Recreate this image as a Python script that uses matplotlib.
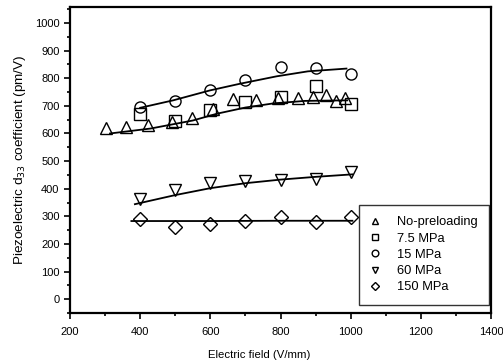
import numpy as np
import matplotlib.pyplot as plt
from matplotlib.ticker import MultipleLocator

plt.rcParams['font.family'] = ['Liberation Sans', 'DejaVu Sans']

# measured points
x_tri = [302, 359, 422, 490, 547, 607, 665, 729, 793, 850, 893, 931, 958, 985]
y_tri = [621, 623, 629, 641, 657, 688, 724, 723, 728, 728, 732, 738, 717, 727]
x_sq = [400, 500, 600, 700, 800, 900, 1000]
y_sq = [672, 645, 686, 714, 732, 771, 705]
x_circ = [400, 500, 600, 700, 800, 900, 1000]
y_circ = [695, 716, 756, 795, 841, 836, 815]
x_down = [400, 500, 600, 700, 800, 900, 1000]
y_down = [362, 396, 421, 427, 432, 435, 459]
x_dia = [400, 500, 600, 700, 800, 900, 1000]
y_dia = [290, 262, 272, 284, 296, 281, 298]

# fitted curves
fx_low = [314, 430, 550, 620, 700, 780, 870, 990]
fy_low = [600, 618, 647, 672, 694, 709, 718, 720]
fx_circ = [400, 494, 599, 684, 789, 878, 988]
fy_circ = [693, 720, 756, 780, 807, 825, 835]
fx_down = [385, 500, 600, 700, 800, 900, 1005]
fy_down = [344, 377, 402, 420, 433, 443, 452]
fx_dia = [375, 600, 800, 1005]
fy_dia = [283, 283, 284, 284]

fig = plt.figure(figsize=(5.03, 3.63), dpi=100)
ax = fig.add_axes([70/503, 1-313/363, 421/503, 306/363])

mk = dict(linestyle='none', mfc='none', mec='black', mew=1.0, ms=8)
ax.plot(x_tri, y_tri, marker='^', label='No-preloading', **mk)
ax.plot(x_sq, y_sq, marker='s', label='7.5 MPa', **mk)
ax.plot(x_circ, y_circ, marker='o', label='15 MPa', **mk)
ax.plot(x_down, y_down, marker='v', label='60 MPa', **mk)
ax.plot(x_dia, y_dia, marker='D', label='150 MPa', **dict(mk, ms=7))

for fx, fy in [(fx_low, fy_low), (fx_circ, fy_circ), (fx_down, fy_down), (fx_dia, fy_dia)]:
    ax.plot(fx, fy, color='black', lw=1.3)

ax.set_xlim(200, 1400)
ax.set_ylim(-50, 1058)
ax.xaxis.set_major_locator(MultipleLocator(200))
ax.xaxis.set_minor_locator(MultipleLocator(100))
ax.yaxis.set_minor_locator(MultipleLocator(50))
ax.set_yticks(range(0, 1001, 100))
ax.tick_params(which='both', direction='out', labelsize=8, width=1.2)
ax.tick_params(which='major', length=4)
ax.tick_params(which='minor', length=2)
ax.tick_params(axis='x', pad=6)
for s in ax.spines.values():
    s.set_linewidth(1.6)

ax.set_xlabel('Electric field (V/mm)', fontsize=8.2)
ax.xaxis.set_label_coords(0.45, -0.12)
ax.set_ylabel('Piezoelectric d$_{33}$ coefficient (pm/V)', fontsize=9.7, labelpad=5)

leg = ax.legend(loc='lower right', bbox_to_anchor=(0.995, 0.026), fontsize=9.3,
                markerscale=0.6, frameon=True, fancybox=False, edgecolor='black',
                handlelength=0.8, handletextpad=1.25, labelspacing=0.33,
                borderpad=0.9, borderaxespad=0)
leg.get_frame().set_linewidth(1.0)

fig.savefig('out.png', dpi=100)
